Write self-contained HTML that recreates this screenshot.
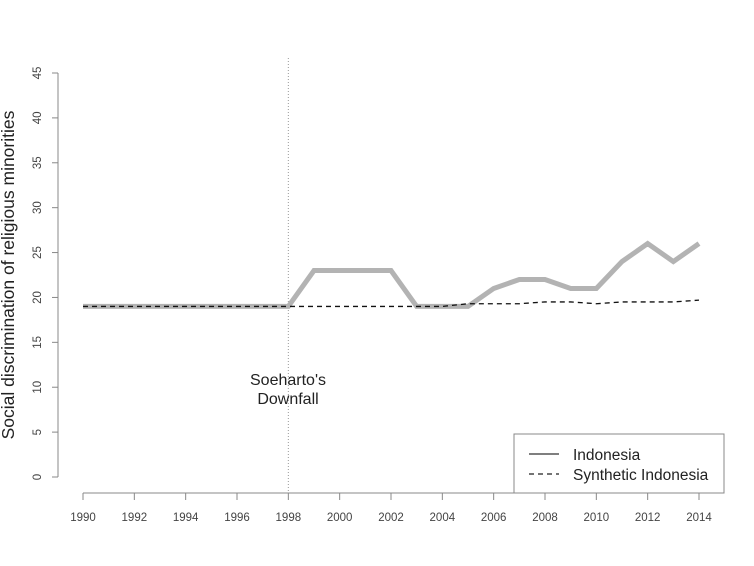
<!DOCTYPE html>
<html><head><meta charset="utf-8"><style>
body{margin:0;background:#fff;}
svg{display:block;font-family:"Liberation Sans",Arial,sans-serif;}
</style></head><body>
<svg id="chart" width="754" height="566">
<g id="axes"></g><g id="marks"></g>
<text x="288" y="385" font-size="16" text-anchor="middle" fill="#222"><tspan x="288">Soeharto's</tspan><tspan x="288" dy="19">Downfall</tspan></text>
<text transform="translate(14,275) rotate(-90)" font-size="17.5" text-anchor="middle" fill="#222">Social discrimination of religious minorities</text>
<g>
<rect x="514" y="434" width="210" height="59" fill="#fff" stroke="#888"/>
<line x1="529" y1="454" x2="559" y2="454" stroke="#555" stroke-width="1.5"/>
<text x="573" y="460" font-size="15.5" fill="#222">Indonesia</text>
<line x1="529" y1="474" x2="559" y2="474" stroke="#222" stroke-width="1.3" stroke-dasharray="5,4"/>
<text x="573" y="480" font-size="15.5" fill="#222">Synthetic Indonesia</text>
</g>
</svg>
<script>
const years=[1990,1991,1992,1993,1994,1995,1996,1997,1998,1999,2000,2001,2002,2003,2004,2005,2006,2007,2008,2009,2010,2011,2012,2013,2014];
const indonesia=[19,19,19,19,19,19,19,19,19,23,23,23,23,19,19,19,21,22,22,21,21,24,26,24,26];
const synthetic=[19,19,19,19,19,19,19,19,19,19,19,19,19,19,19,19.3,19.3,19.3,19.5,19.5,19.3,19.5,19.5,19.5,19.7];
const yTicks=[0,5,10,15,20,25,30,35,40,45];
const xTicks=[1990,1992,1994,1996,1998,2000,2002,2004,2006,2008,2010,2012,2014];
const eventYear=1998;
const NS='http://www.w3.org/2000/svg';
const xs=v=>83+(v-1990)*(699-83)/24;
const ys=v=>477-v*(477-73)/45;
function mk(tag,attrs,parent){const e=document.createElementNS(NS,tag);for(const k in attrs)e.setAttribute(k,attrs[k]);parent.appendChild(e);return e;}
const ax=document.getElementById('axes'),mk2=document.getElementById('marks');
let l=mk('line',{x1:58,y1:ys(0),x2:58,y2:ys(45),stroke:'#888'},ax);


yTicks.forEach(t=>{
 const tk=mk('line',{x1:52,y1:ys(t),x2:58,y2:ys(t),stroke:'#888'},ax);
 
 
 const tx=mk('text',{transform:`translate(41,${ys(t)}) rotate(-90)`,'font-size':11.5,'text-anchor':'middle',fill:'#444'},ax);
 tx.textContent=t;
 
 
});
l=mk('line',{x1:xs(1990),y1:493,x2:xs(2014),y2:493,stroke:'#888'},ax);


xTicks.forEach(t=>{
 const tk=mk('line',{x1:xs(t),y1:493,x2:xs(t),y2:500,stroke:'#888'},ax);
 
 
 const tx=mk('text',{x:xs(t),y:521,'font-size':11.5,'text-anchor':'middle',fill:'#444'},ax);
 tx.textContent=t;
 
 
});
l=mk('line',{x1:xs(eventYear),y1:58,x2:xs(eventYear),y2:493,stroke:'#999','stroke-dasharray':'1,2'},mk2);


const p1=mk('polyline',{points:years.map((y,i)=>xs(y)+','+ys(indonesia[i])).join(' '),fill:'none',stroke:'#b3b3b3','stroke-width':5,'stroke-linejoin':'miter'},mk2);


const p2=mk('polyline',{points:years.map((y,i)=>xs(y)+','+ys(synthetic[i])).join(' '),fill:'none',stroke:'#111','stroke-width':1.3,'stroke-dasharray':'5,4'},mk2);


</script>
</body></html>
